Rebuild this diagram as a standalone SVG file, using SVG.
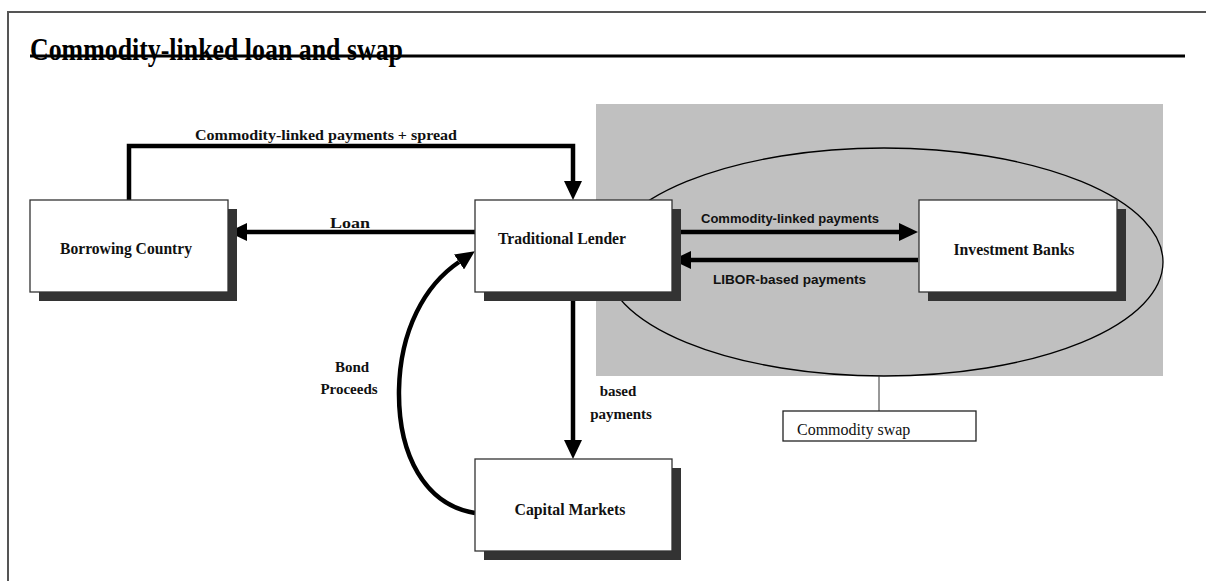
<svg xmlns="http://www.w3.org/2000/svg" width="1206" height="581" viewBox="0 0 1206 581">
<defs>
<marker id="ah" markerUnits="userSpaceOnUse" markerWidth="20" markerHeight="18" refX="0" refY="9" orient="auto">
<path d="M0,0 L19,9 L0,18 z" fill="#000"/>
</marker>
<style>
.frame{stroke:#555;stroke-width:2;fill:none}
.shadow{fill:#333}
.box{fill:#fff;stroke:#333;stroke-width:1.3}
.nl{font-family:"Liberation Serif","Times New Roman",serif;font-weight:bold;font-size:16px;fill:#111}
.el{font-family:"Liberation Serif","Times New Roman",serif;font-weight:bold;font-size:15px;fill:#111}
.sl{font-family:"Liberation Sans",Arial,sans-serif;font-weight:bold;font-size:13px;fill:#111}
.conn{stroke:#000;stroke-width:4.5;fill:none}
</style>
</defs>
<rect width="1206" height="581" fill="#fff"/>
<path class="frame" d="M8,581 L8,12 L1206,12"/>
<g id="title">
<text x="30" y="60" font-family="'Liberation Serif','Times New Roman',serif" font-weight="bold" font-size="31" textLength="373" lengthAdjust="spacingAndGlyphs" fill="#000">Commodity-linked loan and swap</text>
<line x1="30" y1="56" x2="1185" y2="56" stroke="#000" stroke-width="3"/>
</g>
<g id="swap-area">
<rect x="596" y="104" width="567" height="272" fill="#c0c0c0"/>
<ellipse cx="884" cy="262" rx="279" ry="114" fill="none" stroke="#000" stroke-width="1.3"/>
<line x1="879" y1="376" x2="879" y2="411" stroke="#333" stroke-width="1"/>
</g>
<g id="commodity-swap">
<rect x="783" y="411" width="193" height="30" fill="#fff" stroke="#222" stroke-width="1.3"/>
<text x="797" y="435" font-family="'Liberation Serif','Times New Roman',serif" font-size="16" fill="#111">Commodity swap</text>
</g>
<g id="connectors">
<polyline class="conn" points="129,200 129,146 573,146 573,181" marker-end="url(#ah)"/>
<text class="el" x="326" y="140" text-anchor="middle" textLength="262" lengthAdjust="spacingAndGlyphs">Commodity-linked payments + spread</text>
<line class="conn" x1="475" y1="232" x2="247" y2="232" marker-end="url(#ah)"/>
<text class="el" x="350" y="228" text-anchor="middle" textLength="40" lengthAdjust="spacingAndGlyphs">Loan</text>
<line class="conn" x1="672" y1="232" x2="899" y2="232" marker-end="url(#ah)"/>
<text class="sl" x="701" y="223" textLength="178" lengthAdjust="spacingAndGlyphs">Commodity-linked payments</text>
<line class="conn" x1="918" y1="260" x2="691" y2="260" marker-end="url(#ah)"/>
<text class="sl" x="713" y="284" textLength="153" lengthAdjust="spacingAndGlyphs">LIBOR-based payments</text>
<line class="conn" x1="573" y1="292" x2="573" y2="440" marker-end="url(#ah)"/>
<text class="el" x="618" y="396" text-anchor="middle">based</text>
<text class="el" x="621" y="419" text-anchor="middle">payments</text>
<path class="conn" d="M475,513 C425,505 398,455 399,390 C400,330 425,285 459,262" marker-end="url(#ah)"/>
<text class="el" x="352" y="372" text-anchor="middle">Bond</text>
<text class="el" x="349" y="394" text-anchor="middle">Proceeds</text>
</g>
<g id="borrowing-country">
<rect class="shadow" x="39" y="209" width="198" height="92"/>
<rect class="box" x="30" y="200" width="198" height="92"/>
<text class="nl" x="126" y="254" text-anchor="middle" textLength="132" lengthAdjust="spacingAndGlyphs">Borrowing Country</text>
</g>
<g id="traditional-lender">
<rect class="shadow" x="484" y="209" width="197" height="92"/>
<rect class="box" x="475" y="200" width="197" height="92"/>
<text class="nl" x="562" y="244" text-anchor="middle" textLength="128" lengthAdjust="spacingAndGlyphs">Traditional Lender</text>
</g>
<g id="investment-banks">
<rect class="shadow" x="928" y="209" width="198" height="92"/>
<rect class="box" x="919" y="200" width="198" height="92"/>
<text class="nl" x="1014" y="255" text-anchor="middle" textLength="121" lengthAdjust="spacingAndGlyphs">Investment Banks</text>
</g>
<g id="capital-markets">
<rect class="shadow" x="484" y="468" width="197" height="92"/>
<rect class="box" x="475" y="459" width="197" height="92"/>
<text class="nl" x="570" y="515" text-anchor="middle" textLength="111" lengthAdjust="spacingAndGlyphs">Capital Markets</text>
</g>
</svg>
